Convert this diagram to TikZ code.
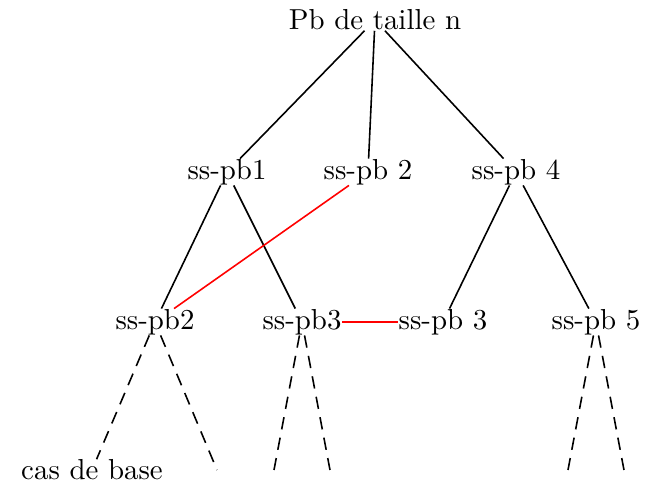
\documentclass[tikz,border=0pt]{standalone}
\begin{document}
\begin{tikzpicture}[x=0.346pt,y=-0.346pt,
  lbl/.style={inner sep=0pt, font=\normalsize},
  edge/.style={draw=black, line width=0.55pt},
  rededge/.style={draw=red, line width=0.55pt},
  dedge/.style={draw=black, line width=0.55pt, dash pattern=on 4.3pt off 2.9pt}]
\useasboundingbox (0,0) rectangle (648,481);
\node[lbl] (top) at (375,20) {Pb de taille n};
\node[lbl] (p1) at (227,172) {ss-pb1};
\node[lbl] (p2) at (368,172) {ss-pb 2};
\node[lbl] (p4) at (516,172) {ss-pb 4};
\node[lbl] (q2) at (155,322) {ss-pb2};
\node[lbl] (q3) at (302,322) {ss-pb3};
\node[lbl] (q3b) at (443,322) {ss-pb 3};
\node[lbl] (q5) at (596,322) {ss-pb 5};
\node[lbl] (base) at (92,470) {cas de base};
\coordinate (e1) at (217,470);
\coordinate (e2) at (274,470);
\coordinate (e3) at (330,470);
\coordinate (e4) at (568,470);
\coordinate (e5) at (624,470);
\draw[edge] (top) -- (p1);
\draw[edge] (top) -- (p2);
\draw[edge] (top) -- (p4);
\draw[edge] (p1) -- (q2);
\draw[edge] (p1) -- (q3);
\draw[edge] (p4) -- (q3b);
\draw[edge] (p4) -- (q5);
\draw[rededge] (p2) -- (q2);
\draw[rededge] (q3) -- (q3b);
\draw[dedge] (q2) -- (base);
\draw[dedge] (q2) -- (e1);
\draw[dedge] (q3) -- (e2);
\draw[dedge] (q3) -- (e3);
\draw[dedge] (q5) -- (e4);
\draw[dedge] (q5) -- (e5);
\end{tikzpicture}
\end{document}
